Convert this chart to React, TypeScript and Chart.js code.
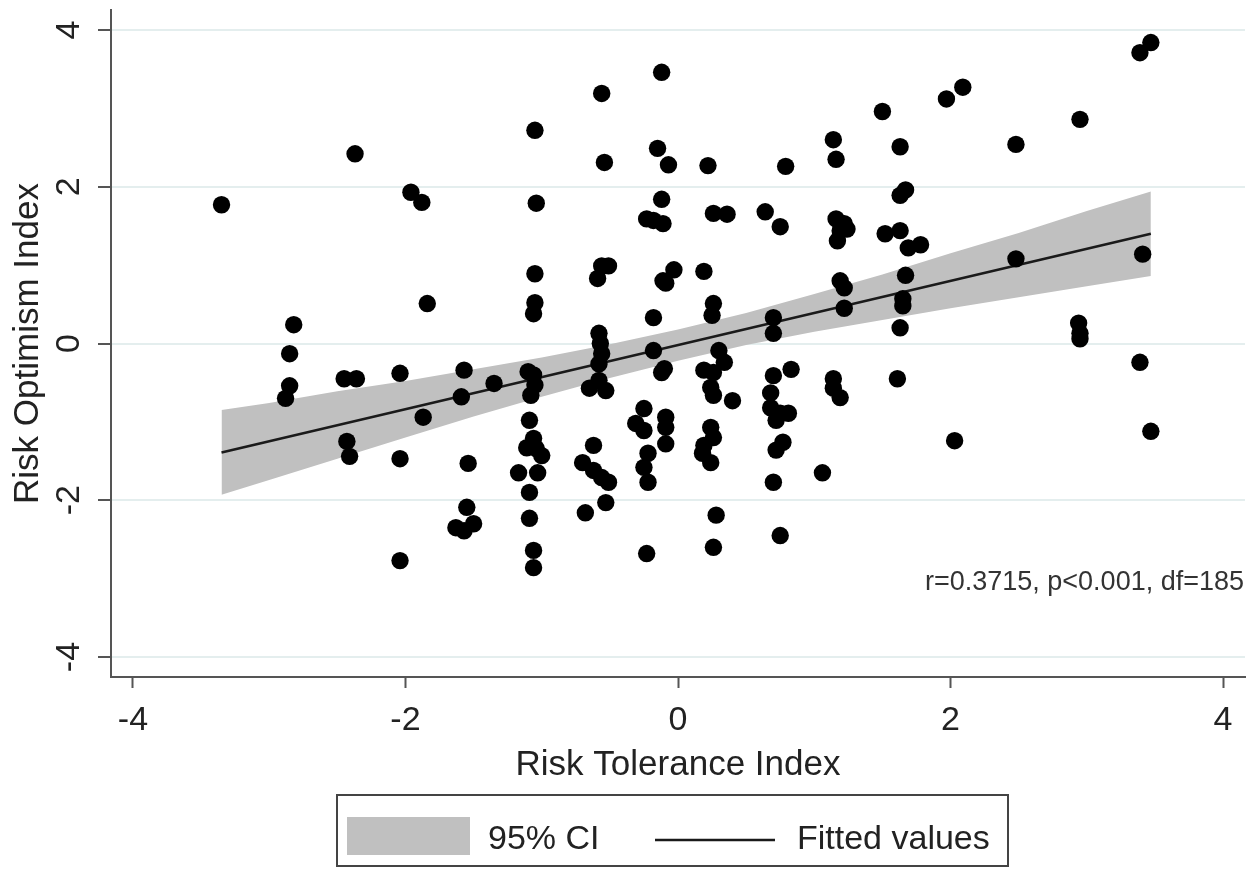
import React, { useEffect, useRef } from "react";
import { Chart, registerables } from "chart.js";

Chart.register(...registerables);

// ---- Data ----
const pointX = [
  -3.35, -2.82, -2.85, -2.85, -2.88, -2.37, -2.45, -2.36, -2.43, -2.41,
  -1.96, -1.88, -1.84, -2.04, -2.04, -2.04, -1.87, -1.57, -1.59, -1.35,
  -1.54, -1.55, -1.63, -1.57, -1.5,
  -1.05, -1.04, -1.05, -1.05, -1.06, -1.1, -1.06, -1.05, -1.08, -1.09,
  -1.06, -1.11, -1.04, -1.0, -1.17, -1.03, -1.09, -1.09, -1.06, -1.06,
  -0.56, -0.54, -0.56, -0.51, -0.59, -0.58, -0.57, -0.56, -0.58, -0.65,
  -0.58, -0.53, -0.62, -0.7, -0.62, -0.56, -0.51, -0.53, -0.68,
  -0.12, -0.15, -0.07, -0.12, -0.23, -0.18, -0.11, -0.03, -0.11, -0.09,
  -0.18, -0.18, -0.1, -0.12, -0.25, -0.31, -0.25, -0.09, -0.09, -0.09,
  -0.22, -0.25, -0.22, -0.23,
  0.19, 0.22, 0.26, 0.36, 0.26, 0.25, 0.3, 0.34, 0.19, 0.26,
  0.24, 0.26, 0.4, 0.24, 0.26, 0.19, 0.18, 0.24, 0.28, 0.26,
  0.79, 0.64, 0.75, 0.7, 0.7, 0.83, 0.7, 0.68, 0.68, 0.75,
  0.81, 0.72, 0.77, 0.72, 0.7, 0.75, 1.06,
  1.14, 1.16, 1.16, 1.22, 1.19, 1.17, 1.24, 1.19, 1.22, 1.22,
  1.14, 1.14, 1.19,
  1.5, 1.63, 1.63, 1.67, 1.52, 1.63, 1.69, 1.78, 1.67, 1.65,
  1.65, 1.63, 1.61,
  1.97, 2.09, 2.03, 2.48, 2.48, 2.95, 2.94, 2.95, 2.95, 3.39,
  3.47, 3.41, 3.39, 3.47,
];
const pointY = [
  1.77, 0.24, -0.13, -0.54, -0.7, 2.42, -0.45, -0.45, -1.25, -1.44,
  1.93, 1.8, 0.51, -0.38, -1.47, -2.77, -0.94, -0.34, -0.68, -0.51,
  -1.53, -2.09, -2.35, -2.39, -2.3,
  2.72, 1.79, 0.89, 0.52, 0.38, -0.36, -0.4, -0.53, -0.66, -0.98,
  -1.21, -1.33, -1.34, -1.43, -1.65, -1.65, -1.9, -2.23, -2.64, -2.86,
  3.19, 2.31, 0.99, 0.99, 0.83, 0.13, 0.0, -0.13, -0.26, -0.57,
  -0.47, -0.6, -1.3, -1.52, -1.62, -1.71, -1.77, -2.03, -2.16,
  3.46, 2.49, 2.28, 1.84, 1.59, 1.57, 1.53, 0.94, 0.8, 0.77,
  0.33, -0.09, -0.32, -0.37, -0.83, -1.02, -1.11, -0.94, -1.07, -1.28,
  -1.4, -1.58, -1.77, -2.68,
  0.92, 2.27, 1.66, 1.65, 0.51, 0.36, -0.09, -0.24, -0.34, -0.37,
  -0.56, -0.66, -0.73, -1.07, -1.2, -1.3, -1.4, -1.52, -2.19, -2.6,
  2.26, 1.68, 1.49, 0.33, 0.13, -0.33, -0.41, -0.63, -0.82, -0.89,
  -0.89, -0.98, -1.26, -1.36, -1.77, -2.45, -1.65,
  2.6, 2.35, 1.59, 1.53, 1.44, 1.31, 1.46, 0.8, 0.71, 0.45,
  -0.45, -0.57, -0.69,
  2.96, 2.51, 1.89, 1.96, 1.4, 1.44, 1.22, 1.26, 0.87, 0.57,
  0.48, 0.2, -0.45,
  3.12, 3.27, -1.24, 2.54, 1.08, 2.86, 0.26, 0.13, 0.06, 3.71,
  3.84, 1.14, -0.24, -1.12,
];

const fitX = [-3.35, 3.47];
const fitY = [-1.39, 1.4];

const ciX = [-3.35, -3, -2.5, -2, -1.5, -1, -0.5, 0, 0.5, 1, 1.5, 2, 2.5, 3, 3.47];
const ciUpper = [-0.85, -0.76, -0.61, -0.48, -0.33, -0.18, -0.01, 0.18, 0.39, 0.63, 0.88, 1.15, 1.41, 1.69, 1.94];
const ciLower = [-1.93, -1.74, -1.47, -1.2, -0.93, -0.68, -0.44, -0.22, -0.02, 0.15, 0.3, 0.45, 0.59, 0.73, 0.86];

const axisTicks = [-4, -2, 0, 2, 4];
const xTitle = "Risk Tolerance Index";
const yTitle = "Risk Optimism Index";
const legendLabels = ["95% CI", "Fitted values"];
const statsText = "r=0.3715, p<0.001, df=185";

const FONT = '"Liberation Sans", Arial, Helvetica, sans-serif';
const CI_COLOR = "rgb(192,192,192)";

const overlayPlugin = {
  id: "overlay",
  afterDraw(chart: any) {
    const ctx = chart.ctx as CanvasRenderingContext2D;
    const area = chart.chartArea;
    ctx.save();
    // statistics annotation
    ctx.font = `27px ${FONT}`;
    ctx.fillStyle = "#333";
    ctx.textAlign = "right";
    ctx.textBaseline = "middle";
    ctx.fillText(statsText, area.right - 1, 583);

    // legend box
    ctx.strokeStyle = "#444";
    ctx.lineWidth = 2;
    ctx.strokeRect(337, 795, 671, 71);
    ctx.fillStyle = CI_COLOR;
    ctx.fillRect(347, 817, 123, 38);
    ctx.font = `34px ${FONT}`;
    ctx.fillStyle = "#222";
    ctx.textAlign = "left";
    ctx.fillText(legendLabels[0], 488, 840);
    ctx.strokeStyle = "#1a1a1a";
    ctx.lineWidth = 2.5;
    ctx.beginPath();
    ctx.moveTo(655, 840);
    ctx.lineTo(775, 840);
    ctx.stroke();
    ctx.fillText(legendLabels[1], 797, 840);
    ctx.restore();
  },
};

export default function App() {
  const canvasRef = useRef<HTMLCanvasElement | null>(null);

  useEffect(() => {
    document.body.style.margin = "0";
    const canvas = canvasRef.current;
    if (!canvas) return;

    const points = pointX.map((x, i) => ({ x, y: pointY[i] }));
    const fit = fitX.map((x, i) => ({ x, y: fitY[i] }));
    const upper = ciX.map((x, i) => ({ x, y: ciUpper[i] }));
    const lower = ciX.map((x, i) => ({ x, y: ciLower[i] }));

    const chart = new Chart(canvas, {
      type: "scatter",
      data: {
        datasets: [
          {
            label: "points",
            data: points,
            showLine: false,
            pointRadius: 8.7,
            pointBackgroundColor: "#000",
            pointBorderColor: "#000",
            pointBorderWidth: 0,
          },
          {
            label: legendLabels[1],
            data: fit,
            showLine: true,
            borderColor: "#1a1a1a",
            borderWidth: 2.5,
            pointRadius: 0,
            fill: false,
          },
          {
            label: "upper",
            data: upper,
            showLine: true,
            borderColor: "rgba(0,0,0,0)",
            borderWidth: 1,
            pointRadius: 0,
            backgroundColor: CI_COLOR,
            fill: "+1",
            tension: 0,
          },
          {
            label: "lower",
            data: lower,
            showLine: true,
            borderColor: "rgba(0,0,0,0)",
            borderWidth: 1,
            pointRadius: 0,
            fill: false,
            tension: 0,
          },
        ],
      },
      options: {
        animation: false,
        responsive: false,
        devicePixelRatio: 1,
        layout: { padding: { left: 0, top: 10, right: 11, bottom: 0 } },
        plugins: {
          legend: { display: false },
          tooltip: { enabled: false },
        },
        events: [],
        scales: {
          x: {
            type: "linear",
            min: -4.161,
            max: 4.161,
            afterBuildTicks: (scale: any) => {
              scale.ticks = axisTicks.map((v) => ({ value: v }));
            },
            afterFit: (scale: any) => {
              scale.height = 194;
              scale.paddingLeft = 0;
              scale.paddingRight = 0;
            },
            border: { display: true, color: "#555", width: 2 },
            grid: {
              drawOnChartArea: false,
              drawTicks: true,
              tickLength: 11,
              tickWidth: 2,
              tickColor: "#555",
            },
            ticks: {
              autoSkip: false,
              maxRotation: 0,
              minRotation: 0,
              padding: 12,
              color: "#222",
              font: { family: FONT, size: 34 },
              callback: (v: any) => String(v),
            },
            title: {
              display: true,
              text: xTitle,
              color: "#222",
              font: { family: FONT, size: 35, lineHeight: 1 },
              padding: { top: 0, bottom: 88.5 },
            },
          },
          y: {
            type: "linear",
            min: -4.255,
            max: 4.255,
            afterBuildTicks: (scale: any) => {
              scale.ticks = axisTicks.map((v) => ({ value: v }));
            },
            afterFit: (scale: any) => {
              scale.width = 111;
              scale.paddingTop = 0;
              scale.paddingBottom = 0;
            },
            border: { display: true, color: "#555", width: 2 },
            grid: {
              drawOnChartArea: true,
              color: "rgb(228,238,238)",
              lineWidth: 2,
              drawTicks: true,
              tickLength: 13,
              tickWidth: 2,
              tickColor: "#555",
            },
            ticks: {
              autoSkip: false,
              minRotation: 90,
              maxRotation: 90,
              crossAlign: "center",
              padding: 13,
              color: "#222",
              font: { family: FONT, size: 34 },
              callback: (v: any) => String(v),
            },
            title: {
              display: true,
              text: yTitle,
              color: "#222",
              font: { family: FONT, size: 35, lineHeight: 1 },
              padding: { top: 10.5, bottom: 0 },
            },
          },
        },
      },
      plugins: [overlayPlugin],
    } as any);

    return () => {
      chart.destroy();
    };
  }, []);

  return (
    <div style={{ width: 1256, height: 871 }}>
      <canvas ref={canvasRef} width={1256} height={871} style={{ display: "block" }} />
    </div>
  );
}
